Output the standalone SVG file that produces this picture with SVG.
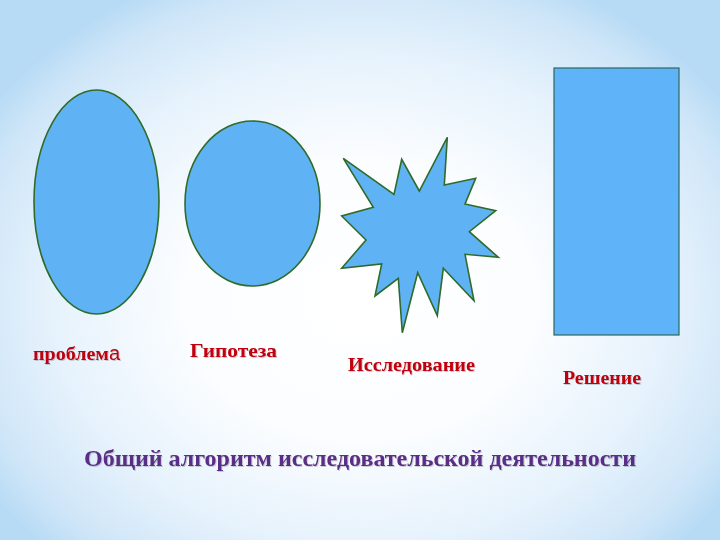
<svg xmlns="http://www.w3.org/2000/svg" width="720" height="540" viewBox="0 0 720 540">
  <defs>
    <radialGradient id="bg" cx="360" cy="300" r="440" gradientUnits="userSpaceOnUse" gradientTransform="translate(360 300) scale(1 0.8) translate(-360 -300)">
      <stop offset="0" stop-color="#ffffff"/>
      <stop offset="0.4" stop-color="#fbfdff"/>
      <stop offset="0.7" stop-color="#e6f2fc"/>
      <stop offset="0.9" stop-color="#cfe6f8"/>
      <stop offset="1" stop-color="#b8dbf5"/>
    </radialGradient>
    <filter id="shadow" x="-5%" y="-20%" width="110%" height="140%">
      <feDropShadow dx="1" dy="1" stdDeviation="0.5" flood-color="#000" flood-opacity="0.18"/>
    </filter>
  </defs>
  <style>
    .shape { fill: #5fb3f5; stroke: #2f6b2a; stroke-width: 1.6; }
    .rect { fill: #5fb3f8; stroke: #2a6860; stroke-width: 1.2; }
    .label { font-family: "Liberation Serif", "Times New Roman", serif; font-weight: bold; font-size: 19px; fill: #c00010; }
    .title { font-family: "Liberation Serif", "Times New Roman", serif; font-weight: bold; font-size: 23px; fill: #5a2d86; }
  </style>
  <rect x="0" y="0" width="720" height="540" fill="url(#bg)"/>

  <g id="problem">
    <ellipse class="shape" cx="96.5" cy="202" rx="62.5" ry="112"/>
    <text class="label" x="33" y="360" filter="url(#shadow)"><tspan textLength="76" lengthAdjust="spacingAndGlyphs">проблем</tspan><tspan font-weight="normal" font-family="Liberation Sans, Arial, sans-serif" font-size="20">а</tspan></text>
  </g>

  <g id="hypothesis">
    <ellipse class="shape" cx="252.5" cy="203.5" rx="67.5" ry="82.5"/>
    <text class="label" x="190" y="357" textLength="87" lengthAdjust="spacingAndGlyphs" filter="url(#shadow)">Гипотеза</text>
  </g>

  <g id="research">
    <polygon class="shape" points="343.3,158.3 394,194.3 401.7,159.3 419.3,191 447.3,137.3 444.3,185 475.7,178.3 465,204 495.7,210.7 469.3,231.7 498.3,257.3 465,254.3 474,300.7 443.3,268.3 437.3,315.7 417.7,272.7 402.3,332.7 398.3,278.3 375,296 381.7,264 341.7,268.3 366,240 341.7,216 373.3,207.3"/>
    <text class="label" x="348" y="371" textLength="127" lengthAdjust="spacingAndGlyphs" filter="url(#shadow)">Исследование</text>
  </g>

  <g id="solution">
    <rect class="rect" x="554" y="68" width="125" height="267"/>
    <text class="label" x="563" y="384" textLength="78" lengthAdjust="spacingAndGlyphs" filter="url(#shadow)">Решение</text>
  </g>

  <g id="connectors"></g>

  <text class="title" x="84" y="466" textLength="552" lengthAdjust="spacingAndGlyphs" filter="url(#shadow)">Общий алгоритм исследовательской деятельности</text>
</svg>
